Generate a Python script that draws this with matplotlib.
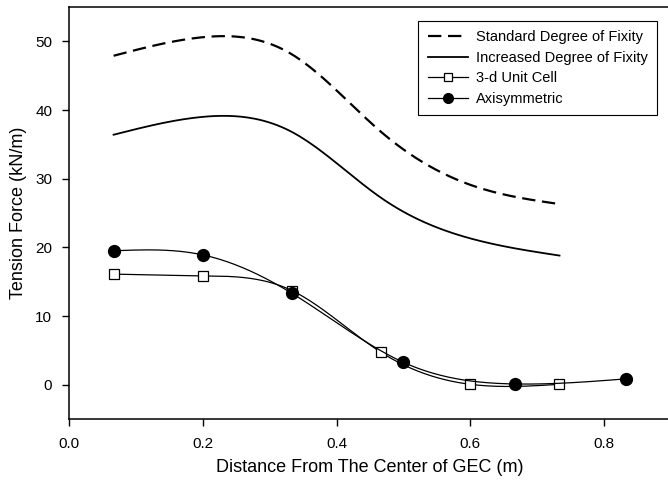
import numpy as np
import matplotlib
matplotlib.use("Agg")
import matplotlib.pyplot as plt
from matplotlib.lines import Line2D

plt.rcParams["font.family"] = ["Liberation Sans", "DejaVu Sans"]

# tension force along the distance from the GEC centre
x_fix = [0.0667, 0.2, 0.3333, 0.4667, 0.6, 0.7333]
standard_fixity = [47.9, 50.6, 48.1, 36.8, 29.1, 26.3]
increased_fixity = [36.4, 39.0, 36.8, 27.2, 21.3, 18.8]

x_cell = [0.0667, 0.2, 0.3333, 0.4667, 0.6, 0.7333]
unit_cell = [16.1, 15.85, 13.7, 4.7, 0.05, 0.05]

x_axi = [0.0667, 0.2, 0.3333, 0.5, 0.6667, 0.8333]
axisym = [19.5, 18.9, 13.3, 3.25, 0.1, 0.85]

x_ticks = [0.0, 0.2, 0.4, 0.6, 0.8]
y_ticks = [0, 10, 20, 30, 40, 50]


def natural_spline(x, y, n=200):
    """Natural cubic spline through (x, y), sampled at n points."""
    x = np.asarray(x, float)
    y = np.asarray(y, float)
    k = len(x)
    h = np.diff(x)
    A = np.zeros((k, k))
    b = np.zeros(k)
    A[0, 0] = A[-1, -1] = 1.0
    for i in range(1, k - 1):
        A[i, i - 1] = h[i - 1]
        A[i, i] = 2 * (h[i - 1] + h[i])
        A[i, i + 1] = h[i]
        b[i] = 6 * ((y[i + 1] - y[i]) / h[i] - (y[i] - y[i - 1]) / h[i - 1])
    m = np.linalg.solve(A, b)
    xs = np.linspace(x[0], x[-1], n)
    idx = np.clip(np.searchsorted(x, xs) - 1, 0, k - 2)
    x0, x1 = x[idx], x[idx + 1]
    hh = x1 - x0
    t0 = x1 - xs
    t1 = xs - x0
    ys = (m[idx] * t0 ** 3 / (6 * hh) + m[idx + 1] * t1 ** 3 / (6 * hh)
          + (y[idx] / hh - m[idx] * hh / 6) * t0
          + (y[idx + 1] / hh - m[idx + 1] * hh / 6) * t1)
    return xs, ys


fig = plt.figure(figsize=(6.68, 4.83), dpi=100)
ax = fig.add_axes([69 / 668, 1 - 419 / 483, 602 / 668, 412 / 483])

xs, ys = natural_spline(x_fix, standard_fixity)
ax.plot(xs, ys, color="black", lw=1.6, dashes=(6, 3))
xs, ys = natural_spline(x_fix, increased_fixity)
ax.plot(xs, ys, color="black", lw=1.3)

xs, ys = natural_spline(x_cell, unit_cell)
ax.plot(xs, ys, color="black", lw=0.9)
ax.plot(x_cell, unit_cell, ls="none", marker="s", ms=7, mfc="white",
        mec="black", mew=0.9)

xs, ys = natural_spline(x_axi, axisym)
ax.plot(xs, ys, color="black", lw=0.9)
ax.plot(x_axi, axisym, ls="none", marker="o", ms=8.5, mfc="black",
        mec="black")

ax.set_xlim(0, 0.9)
ax.set_ylim(-5, 55)
ax.set_xticks(x_ticks)
ax.set_xticklabels(["%.1f" % v for v in x_ticks])
ax.set_yticks(y_ticks)
ax.tick_params(direction="out", length=5, width=1, labelsize=11)
ax.tick_params(axis="x", pad=8)
ax.tick_params(axis="y", pad=7)
for s in ["left", "bottom", "top"]:
    ax.spines[s].set_linewidth(1.1)
ax.spines["right"].set_visible(False)

ax.set_xlabel("Distance From The Center of GEC (m)", fontsize=13, labelpad=6)
ax.set_ylabel("Tension Force (kN/m)", fontsize=13, labelpad=6)

handles = [
    Line2D([], [], color="black", lw=1.6, dashes=(6, 3)),
    Line2D([], [], color="black", lw=1.3),
    Line2D([], [], color="black", lw=0.9, marker="s", ms=6, mfc="white",
           mec="black", mew=0.9),
    Line2D([], [], color="black", lw=0.9, marker="o", ms=7, mfc="black"),
]
labels = ["Standard Degree of Fixity", "Increased Degree of Fixity",
          "3-d Unit Cell", "Axisymmetric"]
leg = ax.legend(handles, labels, loc="upper right",
                bbox_to_anchor=((657 - 69) / 602, (419 - 20.7) / 412),
                fontsize=10.5, frameon=True, fancybox=False, edgecolor="black",
                framealpha=1, handlelength=2.8, handletextpad=0.5,
                labelspacing=0.45, borderpad=0.65, borderaxespad=0)
leg.get_frame().set_linewidth(0.8)

fig.savefig("out.png", dpi=100)
